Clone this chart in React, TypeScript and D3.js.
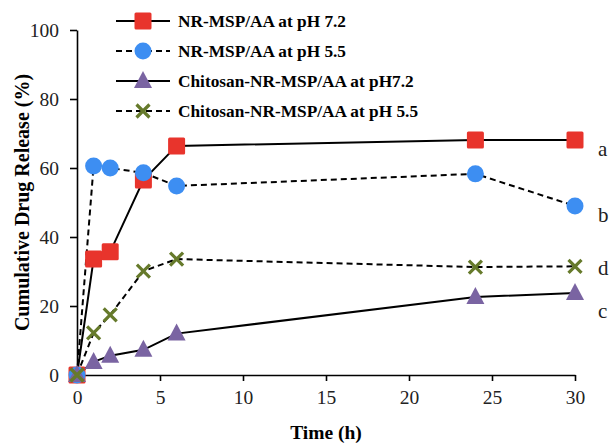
import * as d3 from "d3";
import { useRef, useEffect } from "react";

const times = [0, 1, 2, 4, 6, 24, 30];
const nrPh72 = [0, 33.6, 35.7, 56.5, 66.4, 68.1, 68.1];
const nrPh55 = [0, 60.6, 60, 58.6, 54.8, 58.3, 49];
const chPh72 = [0, 3.8, 5.6, 7.3, 12, 22.6, 23.8];
const chPh55 = [0, 12.2, 17.4, 30.1, 33.6, 31.3, 31.5];

const seriesNames = [
  "NR-MSP/AA at pH 7.2",
  "NR-MSP/AA at pH 5.5",
  "Chitosan-NR-MSP/AA at pH7.2",
  "Chitosan-NR-MSP/AA at pH 5.5",
];
const endLetters = ["a", "b", "c", "d"];
const letterValues = [63.5, 44.3, 16.4, 29];

const xTicks = [0, 5, 10, 15, 20, 25, 30];
const yTicks = [0, 20, 40, 60, 80, 100];

const dims = {
  width: 614,
  height: 443,
  left: 77,
  right: 575,
  top: 30,
  bottom: 375,
};

const styles = [
  { marker: "square", color: "#e8342c", dash: null },
  { marker: "circle", color: "#3d8ef2", dash: "6,4" },
  { marker: "triangle", color: "#7a64a2", dash: null },
  { marker: "cross", color: "#667a2b", dash: "6,4" },
];

const font = "'Liberation Serif', 'Times New Roman', serif";

const App = () => {
  const ref = useRef<SVGSVGElement>(null);

  useEffect(() => {
    const svg = d3.select(ref.current);
    svg.selectAll("*").remove();

    const x = d3.scaleLinear().domain([0, 30]).range([dims.left, dims.right]);
    const y = d3.scaleLinear().domain([0, 100]).range([dims.bottom, dims.top]);

    const allSeries = [nrPh72, nrPh55, chPh72, chPh55];

    // axes
    const xAxis = d3.axisBottom(x).tickValues(xTicks).tickSize(6).tickPadding(9).tickSizeOuter(0);
    const yAxis = d3.axisLeft(y).tickValues(yTicks).tickSize(7).tickPadding(11).tickSizeOuter(0);

    const gx = svg.append("g").attr("transform", `translate(0,${dims.bottom})`).call(xAxis);
    const gy = svg.append("g").attr("transform", `translate(${dims.left},0)`).call(yAxis);
    [gx, gy].forEach((g) => {
      g.attr("font-family", font);
      g.selectAll("path, line").attr("stroke", "#000").attr("stroke-width", 1.6);
      g.selectAll("text")
        .attr("font-family", font)
        .attr("font-size", 19.5)
        .attr("fill", "#222");
    });

    svg
      .append("text")
      .attr("transform", `translate(29,${(dims.top + dims.bottom) / 2}) rotate(-90)`)
      .attr("text-anchor", "middle")
      .attr("font-family", font)
      .attr("font-weight", "bold")
      .attr("font-size", 20)
      .text("Cumulative Drug Release (%)");

    svg
      .append("text")
      .attr("x", (dims.left + dims.right) / 2)
      .attr("y", 439)
      .attr("text-anchor", "middle")
      .attr("font-family", font)
      .attr("font-weight", "bold")
      .attr("font-size", 19.5)
      .text("Time (h)");

    const line = d3
      .line<number>()
      .x((_, i) => x(times[i]))
      .y((d) => y(d));

    const drawMarker = (g: any, kind: string, color: string, cx: number, cy: number) => {
      if (kind === "square") {
        g.append("rect")
          .attr("x", cx - 8.5)
          .attr("y", cy - 8.5)
          .attr("width", 17)
          .attr("height", 17)
          .attr("rx", 1.5)
          .attr("fill", color);
      } else if (kind === "circle") {
        g.append("circle").attr("cx", cx).attr("cy", cy).attr("r", 8.5).attr("fill", color);
      } else if (kind === "triangle") {
        g.append("path")
          .attr("d", `M${cx},${cy - 10}L${cx + 9},${cy + 7}L${cx - 9},${cy + 7}Z`)
          .attr("fill", color);
      } else {
        const s = 6.5;
        g.append("path")
          .attr("d", `M${cx - s},${cy - s}L${cx + s},${cy + s}M${cx + s},${cy - s}L${cx - s},${cy + s}`)
          .attr("stroke", color)
          .attr("stroke-width", 3.2)
          .attr("fill", "none");
      }
    };

    const plot = svg.append("g");
    allSeries.forEach((vals, si) => {
      const st = styles[si];
      plot
        .append("path")
        .datum(vals)
        .attr("d", line)
        .attr("fill", "none")
        .attr("stroke", "#000")
        .attr("stroke-width", 2)
        .attr("stroke-dasharray", st.dash);
    });
    allSeries.forEach((vals, si) => {
      const st = styles[si];
      vals.forEach((v, i) => drawMarker(plot, st.marker, st.color, x(times[i]), y(v)));
    });

    // end letters
    endLetters.forEach((l, i) => {
      svg
        .append("text")
        .attr("x", x(30) + 23)
        .attr("y", y(letterValues[i]))
        .attr("font-family", font)
        .attr("font-size", 21)
        .attr("fill", "#222")
        .text(l);
    });

    // legend
    const legend = svg.append("g").attr("transform", "translate(116,21)");
    seriesNames.forEach((name, i) => {
      const st = styles[i];
      const row = legend.append("g").attr("transform", `translate(0,${i * 30})`);
      row
        .append("line")
        .attr("x1", 0)
        .attr("x2", 54)
        .attr("y1", 0)
        .attr("y2", 0)
        .attr("stroke", "#000")
        .attr("stroke-width", 2)
        .attr("stroke-dasharray", st.dash);
      drawMarker(row, st.marker, st.color, 27, 0);
      row
        .append("text")
        .attr("x", 62)
        .attr("y", 6)
        .attr("font-family", font)
        .attr("font-weight", "bold")
        .attr("font-size", 17.3)
        .text(name);
    });
  }, []);

  return (
    <svg
      ref={ref}
      width={dims.width}
      height={dims.height}
      style={{ position: "absolute", left: 0, top: 0, background: "#fff" }}
    ></svg>
  );
};

export default App;
